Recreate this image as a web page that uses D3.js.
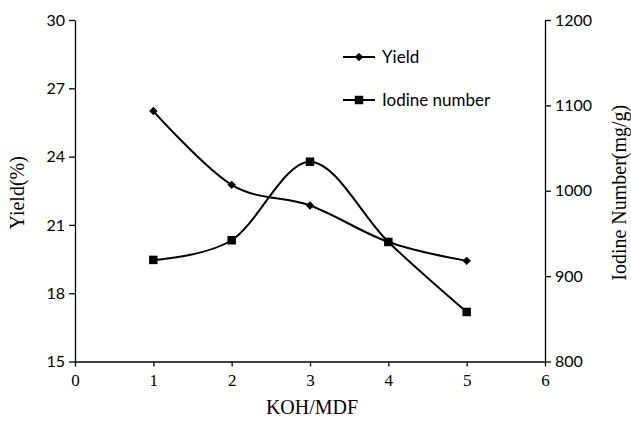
<!DOCTYPE html>
<html>
<head>
<meta charset="utf-8">
<script src="https://cdn.jsdelivr.net/npm/d3@7"></script>
<style>
  body { margin: 0; background: #fff; }
  .tick text { font-family: Lato, "Open Sans", sans-serif; }
</style>
</head>
<body>
<script>
// data
var ratios = [1, 2, 3, 4, 5];
var yieldVals = [26.0, 22.76, 21.85, 20.25, 19.42];
var iodineVals = [919, 942, 1034, 940, 858];
var xTicks = [0, 1, 2, 3, 4, 5, 6];
var yTicks = [15, 18, 21, 24, 27, 30];
var y2Ticks = [800, 900, 1000, 1100, 1200];

var width = 631, height = 423;
var margin = {left: 75, right: 86, top: 20, bottom: 62};

var svg = d3.select("body").append("svg")
    .attr("width", width)
    .attr("height", height);

var x = d3.scaleLinear().domain([0, 6]).range([margin.left, width - margin.right]);
var y = d3.scaleLinear().domain([15, 30]).range([height - margin.bottom + 0.5, margin.top]);
var y2 = d3.scaleLinear().domain([800, 1200]).range([height - margin.bottom + 0.5, margin.top]);

var fmt = d3.format("d");

//axes
var xAxis = svg.append("g")
    .attr("transform", "translate(0," + y(15) + ")")
    .call(d3.axisBottom(x).tickValues(xTicks).tickFormat(fmt).tickSize(5).tickSizeOuter(0));
xAxis.selectAll("text")
    .style("font-family", "'Liberation Serif', serif")
    .style("font-size", "17px")
    .attr("dy", "0.95em");

var yAxis = svg.append("g")
    .attr("transform", "translate(" + x(0) + ",0)")
    .call(d3.axisLeft(y).tickValues(yTicks).tickFormat(fmt).tickSize(6).tickSizeOuter(0));
yAxis.selectAll("text").style("font-size", "16px").attr("x", -10);

var y2Axis = svg.append("g")
    .attr("transform", "translate(" + x(6) + ",0)")
    .call(d3.axisRight(y2).tickValues(y2Ticks).tickFormat(fmt).tickSize(6).tickSizeOuter(0));
y2Axis.selectAll("text").style("font-size", "16px").attr("x", 10);

svg.selectAll(".domain, .tick line").attr("stroke", "#000").attr("stroke-width", 1.3);
svg.selectAll(".tick text").attr("fill", "#000");

//titles
svg.append("text")
    .attr("x", (x(0) + x(6)) / 2 + 2)
    .attr("y", 414)
    .attr("text-anchor", "middle")
    .style("font-family", "'Liberation Serif', serif")
    .style("font-size", "20px")
    .text("KOH/MDF");

svg.append("text")
    .attr("transform", "translate(24," + ((y(15) + y(30)) / 2 + 2) + ") rotate(-90)")
    .attr("text-anchor", "middle")
    .style("font-family", "'Liberation Serif', serif")
    .style("font-size", "20px")
    .text("Yield(%)");

svg.append("text")
    .attr("transform", "translate(626," + ((y(15) + y(30)) / 2 + 2) + ") rotate(-90)")
    .attr("text-anchor", "middle")
    .style("font-family", "'Liberation Serif', serif")
    .style("font-size", "20px")
    .text("Iodine Number(mg/g)");

//lines
var yieldLine = d3.line()
    .x(function(d, i){ return x(ratios[i]); })
    .y(function(d){ return y(d); })
    .curve(d3.curveCatmullRom.alpha(0));

var iodineLine = d3.line()
    .x(function(d, i){ return x(ratios[i]); })
    .y(function(d){ return y2(d); })
    .curve(d3.curveCatmullRom.alpha(0));

svg.append("path")
    .datum(yieldVals)
    .attr("d", yieldLine)
    .attr("fill", "none")
    .attr("stroke", "#000")
    .attr("stroke-width", 2);

svg.append("path")
    .datum(iodineVals)
    .attr("d", iodineLine)
    .attr("fill", "none")
    .attr("stroke", "#000")
    .attr("stroke-width", 2);

var diamond = d3.symbol().type(d3.symbolDiamond2).size(45);
var square = d3.symbol().type(d3.symbolSquare).size(72);

svg.selectAll(".yieldPt")
    .data(yieldVals)
    .enter()
    .append("path")
    .attr("class", "yieldPt")
    .attr("d", diamond)
    .attr("transform", function(d, i){ return "translate(" + x(ratios[i]) + "," + y(d) + ")"; })
    .attr("fill", "#000");

svg.selectAll(".iodPt")
    .data(iodineVals)
    .enter()
    .append("path")
    .attr("class", "iodPt")
    .attr("d", square)
    .attr("transform", function(d, i){ return "translate(" + x(ratios[i]) + "," + y2(d) + ")"; })
    .attr("fill", "#000");

//legend
var legend = svg.append("g").attr("transform", "translate(343,0)");
var items = [{name: "Yield", sym: diamond, y: 57}, {name: "Iodine number", sym: square, y: 100}];
items.forEach(function(it){
    legend.append("line")
        .attr("x1", 0).attr("x2", 32)
        .attr("y1", it.y).attr("y2", it.y)
        .attr("stroke", "#000").attr("stroke-width", 2);
    legend.append("path")
        .attr("d", it.sym)
        .attr("transform", "translate(16," + it.y + ")")
        .attr("fill", "#000");
    legend.append("text")
        .attr("x", 39)
        .attr("y", it.y + 6)
        .style("font-family", "Lato, 'Open Sans', sans-serif")
        .style("font-size", "17px")
        .text(it.name);
});
</script>
</body>
</html>
